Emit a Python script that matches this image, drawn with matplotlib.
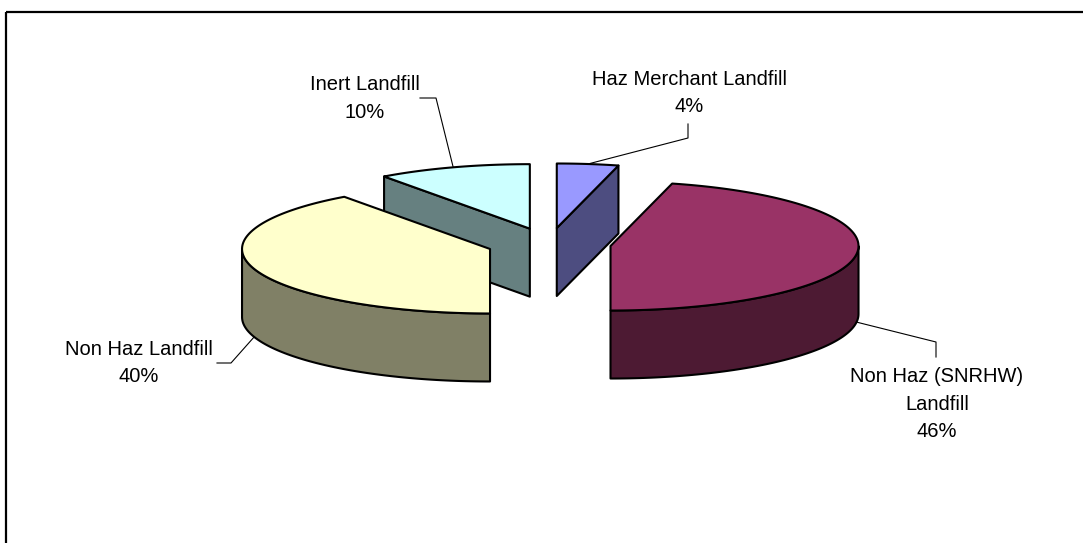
import numpy as np
import matplotlib
matplotlib.use('Agg')
import matplotlib.pyplot as plt
from matplotlib.patches import Polygon, Rectangle

# waste routes and their share of the total
names = ['Haz Merchant Landfill', 'Non Haz (SNRHW)\nLandfill', 'Non Haz Landfill', 'Inert Landfill']
shares = [4, 46, 40, 10]
top_colors = ['#9999FF', '#993366', '#FFFFCC', '#CCFFFF']

plt.rcParams['font.family'] = ['Liberation Sans', 'DejaVu Sans']

# pie geometry in pixel units
cx, cy = 549, 244
a, b = 248, 64.5
depth = 68
explode = 0.25

# label layout: text centre x, first baseline y, leader elbow and end, rim to attach to
label_layout = [
    dict(x=689, y=85, path=[(688, 138), (688, 124)], rim='top'),
    dict(x=937, y=382, path=[(936, 342), (936, 357)], rim='bottom'),
    dict(x=139, y=355, path=[(231, 363), (217, 363)], rim='bottom'),
    dict(x=365, y=90, path=[(436, 98), (420, 98)], rim='top'),
]
line_step = 27.5

fig = plt.figure(figsize=(10.83, 5.43), dpi=100)
ax = fig.add_axes([0, 0, 1, 1])
ax.set_xlim(0, 1083)
ax.set_ylim(543, 0)
ax.axis('off')

ax.add_patch(Rectangle((6, 12), 1200, 800, fill=False, ec='black', lw=1.6, zorder=1))


def shade(c):
    rgb = np.array(matplotlib.colors.to_rgb(c))
    return tuple(rgb * 0.5)


def pt(phi, ox, oy, z=0.0, r=1.0):
    t = np.radians(phi)
    return cx + ox + a * r * np.cos(t), cy + oy - b * r * np.sin(t) + z


total = float(sum(shares))
cum = np.concatenate([[0], np.cumsum(shares)]) / total
slices = []
for i, v in enumerate(shares):
    p2 = 90 - 360 * cum[i]
    p1 = 90 - 360 * cum[i + 1]
    mid = np.radians((p1 + p2) / 2)
    ox = explode * a * np.cos(mid)
    oy = -explode * b * np.sin(mid)
    slices.append((i, p1, p2, mid, ox, oy))

# back slices first so the front ones overlap them
order = sorted(slices, key=lambda s: -np.sin(s[3]))
z = 2
for i, p1, p2, mid, ox, oy in order:
    top = top_colors[i]
    side = shade(top)
    kw = dict(ec='black', lw=1.5, joinstyle='round')
    apex = (cx + ox, cy + oy)
    # radial faces facing the viewer
    for phi, vis in ((p1, np.cos(np.radians(p1)) > 1e-6), (p2, np.cos(np.radians(p2)) < -1e-6)):
        if vis:
            r = pt(phi, ox, oy)
            quad = [apex, r, (r[0], r[1] + depth), (apex[0], apex[1] + depth)]
            ax.add_patch(Polygon(quad, fc=side, zorder=z, **kw))
            z += 1
    # curved outer wall on the front half
    for k in range(-1, 2):
        lo = max(p1, 180 + 360 * k)
        hi = min(p2, 360 + 360 * k)
        if hi > lo:
            ph = np.linspace(lo, hi, 80)
            upper = [pt(p, ox, oy) for p in ph]
            lower = [pt(p, ox, oy, depth) for p in ph[::-1]]
            ax.add_patch(Polygon(upper + lower, fc=side, zorder=z, **kw))
            z += 1
    # top face
    ph = np.linspace(p1, p2, 120)
    face = [apex] + [pt(p, ox, oy) for p in ph]
    ax.add_patch(Polygon(face, fc=top, zorder=z, **kw))
    z += 1

# labels with leader lines
for i, p1, p2, mid, ox, oy in slices:
    lay = label_layout[i]
    dz = depth if lay['rim'] == 'bottom' else 0
    start = pt(np.degrees(mid), ox, oy, dz)
    xs = [start[0]] + [p[0] for p in lay['path']]
    ys = [start[1]] + [p[1] for p in lay['path']]
    ax.plot(xs, ys, color='black', lw=0.8, zorder=z + 1)
    lines = names[i].split('\n') + [f'{shares[i] / total * 100:.0f}%']
    for j, s in enumerate(lines):
        ax.text(lay['x'], lay['y'] + j * line_step, s, ha='center', va='baseline',
                fontsize=14.5, color='black', zorder=z + 2)

fig.savefig('out.png', dpi=100, facecolor='white')
